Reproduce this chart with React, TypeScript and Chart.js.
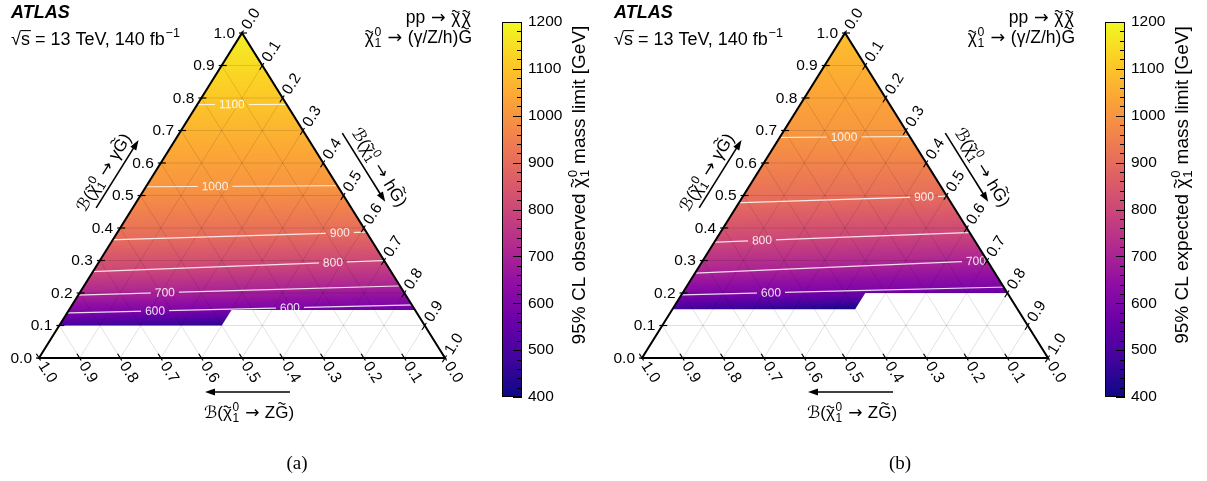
import React, { useEffect, useRef } from 'react';
import { Chart, registerables } from 'chart.js';

Chart.register(...registerables);

const FONT = "'Liberation Sans', 'DejaVu Sans', Arial, sans-serif";
const ARROW_FONT = "'DejaVu Sans', 'Liberation Sans', sans-serif";
Chart.defaults.font.family = FONT;

// ---------- axis ticks ----------
const ternaryTicks = [0, 0.1, 0.2, 0.3, 0.4, 0.5, 0.6, 0.7, 0.8, 0.9, 1.0];
const ternaryTickLabels = ['0.0', '0.1', '0.2', '0.3', '0.4', '0.5', '0.6', '0.7', '0.8', '0.9', '1.0'];
const gridFractions = [0.1, 0.2, 0.3, 0.4, 0.5, 0.6, 0.7, 0.8, 0.9];

const colorbarTicks = [400, 500, 600, 700, 800, 900, 1000, 1100, 1200];
const colorbarMinorStep = 20;

// ---------- mass-limit contours ----------
// gamma fraction B(->γG) at which each mass level is reached, at cartesian x = 0, 0.5, 1
const contourXs = [0, 0.5, 1];

// (a) observed
const obsLevels = [500, 600, 700, 800, 900, 1000, 1100, 1180];
const obsGammaAtX0 = [0.101, 0.1366, 0.1904, 0.2594, 0.3572, 0.525, 0.779, 1.0];
const obsGammaAtXMid = [0.12, 0.1509, 0.2081, 0.2832, 0.376, 0.5285, 0.78, 1.0];
const obsGammaAtX1 = [0.106, 0.1653, 0.2257, 0.307, 0.3949, 0.532, 0.781, 1.0];
const obsDrawnLevels = [600, 700, 800, 900, 1000, 1100];
const obsLabelLevels = [1100, 1000, 900, 800, 700, 600, 600];
const obsLabelX = [0.475, 0.4335, 0.741, 0.724, 0.31, 0.286, 0.618];
const obsRegion = [0.1, 0.4, 0.148]; // min γ (left part), B(hG) of step, min γ (right part)

// (b) expected
const expLevels = [500, 600, 700, 800, 900, 1000, 1090];
const expGammaAtX0 = [0.152, 0.1911, 0.2542, 0.3479, 0.4681, 0.676, 1.0];
const expGammaAtXMid = [0.177, 0.2063, 0.2811, 0.3718, 0.4883, 0.68, 1.0];
const expGammaAtX1 = [0.19, 0.2215, 0.308, 0.3952, 0.5085, 0.684, 1.0];
const expDrawnLevels = [600, 700, 800, 900, 1000];
const expLabelLevels = [1000, 900, 800, 700, 600];
const expLabelX = [0.4975, 0.6946, 0.2956, 0.8227, 0.3177];
const expRegion = [0.15, 0.45, 0.2];

const plasmaStops = ['#0d0887', '#41049d', '#6a00a8', '#8f0da4', '#b12a90', '#cc4778', '#e16462', '#f2844b', '#fca636', '#fcce25', '#f0f921'];

interface PanelCfg {
  levels: number[];
  g: number[][];
  drawn: number[];
  labelLevels: number[];
  labelX: number[];
  region: number[];
  kind: string;
  letter: string;
}

const panels: PanelCfg[] = [
  { levels: obsLevels, g: [obsGammaAtX0, obsGammaAtXMid, obsGammaAtX1], drawn: obsDrawnLevels, labelLevels: obsLabelLevels, labelX: obsLabelX, region: obsRegion, kind: 'observed', letter: '(a)' },
  { levels: expLevels, g: [expGammaAtX0, expGammaAtXMid, expGammaAtX1], drawn: expDrawnLevels, labelLevels: expLabelLevels, labelX: expLabelX, region: expRegion, kind: 'expected', letter: '(b)' },
];

const PANEL_W = 603;
const PANEL_H = 481;

function hexToRgb(h: string) {
  return [parseInt(h.slice(1, 3), 16), parseInt(h.slice(3, 5), 16), parseInt(h.slice(5, 7), 16)];
}
const PLASMA_RGB = plasmaStops.map(hexToRgb);
function plasma(t: number) {
  t = Math.min(1, Math.max(0, t));
  const f = t * (PLASMA_RGB.length - 1);
  const i = Math.min(PLASMA_RGB.length - 2, Math.floor(f));
  const r = f - i;
  const a = PLASMA_RGB[i], b = PLASMA_RGB[i + 1];
  return [a[0] + (b[0] - a[0]) * r, a[1] + (b[1] - a[1]) * r, a[2] + (b[2] - a[2]) * r];
}

function levelGamma(cfg: PanelCfg, i: number, x: number) {
  const n = contourXs.length;
  let k = 0;
  while (k < n - 2 && x > contourXs[k + 1]) k++;
  const t = (x - contourXs[k]) / (contourXs[k + 1] - contourXs[k]);
  return cfg.g[k][i] + (cfg.g[k + 1][i] - cfg.g[k][i]) * t;
}

function massValue(levels: number[], gs: number[], g: number) {
  const n = levels.length;
  if (g <= gs[0]) {
    const s = (levels[1] - levels[0]) / (gs[1] - gs[0]);
    return Math.max(colorbarTicks[0], levels[0] - (gs[0] - g) * s);
  }
  for (let i = 0; i < n - 1; i++) {
    if (g <= gs[i + 1]) return levels[i] + ((g - gs[i]) / (gs[i + 1] - gs[i])) * (levels[i + 1] - levels[i]);
  }
  return levels[n - 1];
}

type Pt = { x: number; y: number };
const unit = (a: Pt, b: Pt) => {
  const dx = b.x - a.x, dy = b.y - a.y, l = Math.hypot(dx, dy);
  return { x: dx / l, y: dy / l };
};

type Seg = { t: string; font?: string; tilde?: 'lo' | 'up'; sup?: string; sub?: string; over?: boolean; arrow?: boolean; gap?: number };

function segFont(s: Seg, size: number) {
  if (s.font) return s.font;
  if (s.arrow) return `${size}px ${ARROW_FONT}`;
  return `${size}px ${FONT}`;
}

function segsWidth(ctx: CanvasRenderingContext2D, segs: Seg[], size: number) {
  let w = 0;
  for (const s of segs) {
    ctx.font = segFont(s, size);
    w += ctx.measureText(s.t).width + (s.gap ?? 0);
    if (s.sup || s.sub) {
      ctx.font = `${size * 0.7}px ${FONT}`;
      w += Math.max(s.sup ? ctx.measureText(s.sup).width : 0, s.sub ? ctx.measureText(s.sub).width : 0) + size * 0.08;
    }
  }
  return w;
}

function drawTilde(ctx: CanvasRenderingContext2D, cx: number, cy: number, size: number) {
  const w = size * 0.42, h = size * 0.1;
  ctx.beginPath();
  for (let i = 0; i <= 16; i++) {
    const t = i / 16;
    const x = cx - w / 2 + w * t;
    const y = cy - (h / 2) * Math.sin(2 * Math.PI * t);
    if (i === 0) ctx.moveTo(x, y);
    else ctx.lineTo(x, y);
  }
  ctx.lineWidth = size * 0.065;
  ctx.stroke();
}

function drawRich(ctx: CanvasRenderingContext2D, segs: Seg[], size: number, x: number, y: number, angle: number, align: 'left' | 'center' | 'right', vcenter: boolean) {
  ctx.save();
  ctx.translate(x, y);
  ctx.rotate(angle);
  ctx.fillStyle = '#000';
  ctx.strokeStyle = '#000';
  ctx.textAlign = 'left';
  ctx.textBaseline = 'alphabetic';
  const w = segsWidth(ctx, segs, size);
  let cx = align === 'left' ? 0 : align === 'center' ? -w / 2 : -w;
  const by = vcenter ? size * 0.36 : 0;
  for (const s of segs) {
    ctx.font = segFont(s, size);
    const tw = ctx.measureText(s.t).width;
    ctx.fillText(s.t, cx, by);
    if (s.tilde) drawTilde(ctx, cx + tw / 2, by - size * (s.tilde === 'up' ? 0.86 : 0.66), size);
    if (s.over) {
      ctx.lineWidth = size * 0.06;
      ctx.beginPath();
      ctx.moveTo(cx - 0.5, by - size * 0.8);
      ctx.lineTo(cx + tw + 1, by - size * 0.8);
      ctx.stroke();
    }
    cx += tw + (s.gap ?? 0);
    if (s.sup || s.sub) {
      ctx.font = `${size * 0.7}px ${FONT}`;
      let sw = 0;
      const x0 = cx + size * 0.04;
      if (s.sup) {
        ctx.fillText(s.sup, x0, by - size * 0.42);
        sw = Math.max(sw, ctx.measureText(s.sup).width);
      }
      if (s.sub) {
        ctx.fillText(s.sub, x0, by + size * 0.2);
        sw = Math.max(sw, ctx.measureText(s.sub).width);
      }
      cx += sw + size * 0.08;
    }
  }
  ctx.restore();
}

const chi: Seg = { t: 'χ', tilde: 'lo', sup: '0', sub: '1' };
const calB = (size: number): Seg => ({ t: 'ℬ', font: `${size}px 'DejaVu Sans', ${FONT}` });
const arr: Seg = { t: ' → ', arrow: true };

function makePlugin(cfg: PanelCfg) {
  let labelBoxes: { x: number; y: number; a: number; text: string; w: number }[] = [];

  return {
    id: 'ternary',
    beforeDatasetsDraw(chart: any) {
      const ctx: CanvasRenderingContext2D = chart.ctx;
      const xs = chart.scales.x, ys = chart.scales.y;
      const P = (h: number, g: number): Pt => ({ x: xs.getPixelForValue(h + g / 2), y: ys.getPixelForValue(g) });
      const [gA, hN, gB] = cfg.region;
      const regionPath = () => {
        const p = new Path2D();
        const pts = [P(0, gA), P(hN, gA), P(hN, gB), P(1 - gB, gB), P(0, 1)];
        p.moveTo(pts[0].x, pts[0].y);
        for (let i = 1; i < pts.length; i++) p.lineTo(pts[i].x, pts[i].y);
        p.closePath();
        return p;
      };

      // --- colour field ---
      const BL = P(0, 0), BR = P(1, 0), AP = P(0, 1);
      const x0 = Math.floor(BL.x) - 1, x1 = Math.ceil(BR.x) + 1, y0 = Math.floor(AP.y) - 1, y1 = Math.ceil(BL.y) + 1;
      const W = x1 - x0, H = y1 - y0;
      const off = document.createElement('canvas');
      off.width = W;
      off.height = H;
      const octx = off.getContext('2d')!;
      const img = octx.createImageData(W, H);
      const n = cfg.levels.length;
      const gs = new Array(n).fill(0);
      const vmin = colorbarTicks[0], vmax = colorbarTicks[colorbarTicks.length - 1];
      for (let i = 0; i < W; i++) {
        const xv = xs.getValueForPixel(x0 + i + 0.5);
        for (let k = 0; k < n; k++) gs[k] = levelGamma(cfg, k, xv);
        for (let j = 0; j < H; j++) {
          const gv = ys.getValueForPixel(y0 + j + 0.5);
          const v = massValue(cfg.levels, gs, gv);
          const c = plasma((v - vmin) / (vmax - vmin));
          const o = (j * W + i) * 4;
          img.data[o] = c[0];
          img.data[o + 1] = c[1];
          img.data[o + 2] = c[2];
          img.data[o + 3] = 255;
        }
      }
      octx.putImageData(img, 0, 0);
      ctx.save();
      ctx.clip(regionPath());
      ctx.drawImage(off, x0, y0);
      ctx.restore();

      // --- ternary grid ---
      ctx.save();
      ctx.strokeStyle = 'rgba(0,0,0,0.15)';
      ctx.lineWidth = 0.8;
      const seg = (a: Pt, b: Pt) => {
        ctx.beginPath();
        ctx.moveTo(a.x, a.y);
        ctx.lineTo(b.x, b.y);
        ctx.stroke();
      };
      for (const c of gridFractions) {
        seg(P(0, c), P(1 - c, c));
        seg(P(c, 0), P(c, 1 - c));
        seg(P(1 - c, 0), P(0, 1 - c));
      }
      ctx.restore();

      // --- contour label boxes ---
      ctx.font = `12px ${FONT}`;
      labelBoxes = cfg.labelLevels.map((lv, k) => {
        const idx = cfg.levels.indexOf(lv);
        const lx = cfg.labelX[k];
        const g = levelGamma(cfg, idx, lx);
        const pa = { x: xs.getPixelForValue(lx - 0.02), y: ys.getPixelForValue(levelGamma(cfg, idx, lx - 0.02)) };
        const pb = { x: xs.getPixelForValue(lx + 0.02), y: ys.getPixelForValue(levelGamma(cfg, idx, lx + 0.02)) };
        return { x: xs.getPixelForValue(lx), y: ys.getPixelForValue(g), a: Math.atan2(pb.y - pa.y, pb.x - pa.x), text: String(lv), w: ctx.measureText(String(lv)).width };
      });
      const clip = regionPath();
      for (const b of labelBoxes) {
        const hw = b.w / 2 + 4, hh = 7;
        const ca = Math.cos(b.a), sa = Math.sin(b.a);
        const corners = [[-hw, -hh], [hw, -hh], [hw, hh], [-hw, hh]].map(([u, v]) => ({ x: b.x + u * ca - v * sa, y: b.y + u * sa + v * ca }));
        clip.moveTo(corners[0].x, corners[0].y);
        for (let i = 1; i < 4; i++) clip.lineTo(corners[i].x, corners[i].y);
        clip.closePath();
      }
      ctx.save();
      ctx.clip(clip, 'evenodd');
    },

    afterDatasetsDraw(chart: any) {
      const ctx: CanvasRenderingContext2D = chart.ctx;
      ctx.restore();
      const xs = chart.scales.x, ys = chart.scales.y, cb = chart.scales.cb;
      const P = (h: number, g: number): Pt => ({ x: xs.getPixelForValue(h + g / 2), y: ys.getPixelForValue(g) });
      const BL = P(0, 0), BR = P(1, 0), AP = P(0, 1);

      // contour labels
      ctx.save();
      ctx.fillStyle = 'rgba(255,255,255,0.88)';
      ctx.font = `12px ${FONT}`;
      ctx.textAlign = 'center';
      ctx.textBaseline = 'middle';
      for (const b of labelBoxes) {
        ctx.save();
        ctx.translate(b.x, b.y);
        ctx.rotate(b.a);
        ctx.fillText(b.text, 0, 0.5);
        ctx.restore();
      }
      ctx.restore();

      // triangle edges
      ctx.save();
      ctx.strokeStyle = '#000';
      ctx.lineWidth = 2;
      ctx.lineJoin = 'miter';
      ctx.beginPath();
      ctx.moveTo(BL.x, BL.y);
      ctx.lineTo(BR.x, BR.y);
      ctx.lineTo(AP.x, AP.y);
      ctx.closePath();
      ctx.stroke();
      ctx.restore();

      // ticks and tick labels
      const dirL = unit(BR, BL);
      const dirR = unit(BL, AP);
      const dirB = unit(AP, BR);
      ctx.save();
      ctx.strokeStyle = '#000';
      ctx.fillStyle = '#000';
      ctx.lineWidth = 1.2;
      ctx.font = `15.5px ${FONT}`;
      ctx.textBaseline = 'middle';
      const tick = (p: Pt, d: Pt) => {
        ctx.beginPath();
        ctx.moveTo(p.x + d.x * 3, p.y + d.y * 3);
        ctx.lineTo(p.x - d.x * 5, p.y - d.y * 5);
        ctx.stroke();
      };
      ternaryTicks.forEach((c, i) => {
        const lab = ternaryTickLabels[i];
        // left axis: B(γG)
        const pl = P(0, c);
        tick(pl, dirL);
        ctx.textAlign = 'right';
        ctx.fillText(lab, pl.x + dirL.x * 7, pl.y + dirL.y * 7 + 0.5);
        ctx.textAlign = 'left';
        // right axis: B(hG)
        const pr = P(c, 1 - c);
        tick(pr, dirR);
        ctx.save();
        ctx.translate(pr.x + dirR.x * 6, pr.y + dirR.y * 6);
        ctx.rotate(Math.atan2(dirR.y, dirR.x));
        ctx.fillText(lab, 0, 0.5);
        ctx.restore();
        // bottom axis: B(ZG)
        const pb = P(1 - c, 0);
        tick(pb, dirB);
        ctx.save();
        ctx.translate(pb.x + dirB.x * 6, pb.y + dirB.y * 6);
        ctx.rotate(Math.atan2(dirB.y, dirB.x));
        ctx.fillText(lab, 0, 0.5);
        ctx.restore();
      });
      ctx.restore();

      // axis titles with arrows
      const arrow = (c: Pt, u: Pt, len: number) => {
        const a = { x: c.x - (u.x * len) / 2, y: c.y - (u.y * len) / 2 };
        const b = { x: c.x + (u.x * len) / 2, y: c.y + (u.y * len) / 2 };
        const nx = -u.y, ny = u.x;
        ctx.save();
        ctx.strokeStyle = '#000';
        ctx.fillStyle = '#000';
        ctx.lineWidth = 1.6;
        ctx.beginPath();
        ctx.moveTo(a.x, a.y);
        ctx.lineTo(b.x - u.x * 6, b.y - u.y * 6);
        ctx.stroke();
        ctx.beginPath();
        ctx.moveTo(b.x, b.y);
        ctx.lineTo(b.x - u.x * 10 + nx * 3.5, b.y - u.y * 10 + ny * 3.5);
        ctx.lineTo(b.x - u.x * 10 - nx * 3.5, b.y - u.y * 10 - ny * 3.5);
        ctx.closePath();
        ctx.fill();
        ctx.restore();
      };
      const ts = 17;
      {
        const u = unit(BL, AP), nrm = { x: u.y, y: -u.x }, mid = P(0, 0.5);
        const tc = { x: mid.x + nrm.x * 44, y: mid.y + nrm.y * 44 };
        drawRich(ctx, [calB(ts), { t: '(' }, chi, arr, { t: 'γ' }, { t: 'G', tilde: 'up' }, { t: ')' }], ts, tc.x, tc.y, Math.atan2(u.y, u.x), 'center', true);
        arrow({ x: mid.x + nrm.x * 31 + u.x * 6, y: mid.y + nrm.y * 31 + u.y * 6 }, u, 80);
      }
      {
        const u = unit(AP, BR), nrm = { x: u.y, y: -u.x }, mid = P(0.5, 0.5);
        const tc = { x: mid.x + nrm.x * 46 - u.x * 5, y: mid.y + nrm.y * 46 - u.y * 5 };
        drawRich(ctx, [calB(ts), { t: '(' }, chi, arr, { t: 'h' }, { t: 'G', tilde: 'up' }, { t: ')' }], ts, tc.x, tc.y, Math.atan2(u.y, u.x), 'center', true);
        arrow({ x: mid.x + nrm.x * 32 - u.x * 13, y: mid.y + nrm.y * 32 - u.y * 13 }, u, 81);
      }
      {
        const u = unit(BR, BL), nrm = { x: u.y, y: -u.x }, mid = P(0.5, 0);
        const tc = { x: mid.x + nrm.x * 54 - u.x * 7, y: mid.y + nrm.y * 54 - u.y * 7 };
        drawRich(ctx, [calB(ts), { t: '(' }, chi, arr, { t: 'Z' }, { t: 'G', tilde: 'up' }, { t: ')' }], ts, tc.x, tc.y, 0, 'center', true);
        arrow({ x: mid.x + nrm.x * 34 - u.x * 5.5, y: mid.y + nrm.y * 34 - u.y * 5.5 }, u, 85);
      }

      // colour bar
      const vmin = colorbarTicks[0], vmax = colorbarTicks[colorbarTicks.length - 1];
      const top = cb.getPixelForValue(vmax), bot = cb.getPixelForValue(vmin);
      const right = chart.chartArea.right, barW = 20, left = right - barW;
      const grad = ctx.createLinearGradient(0, bot, 0, top);
      plasmaStops.forEach((c, i) => grad.addColorStop(i / (plasmaStops.length - 1), c));
      ctx.save();
      ctx.fillStyle = grad;
      ctx.fillRect(left, top, barW, bot - top);
      ctx.strokeStyle = '#000';
      ctx.lineWidth = 1;
      for (let v = vmin; v <= vmax; v += colorbarMinorStep) {
        const y = Math.round(cb.getPixelForValue(v)) + 0.5;
        const major = colorbarTicks.includes(v);
        ctx.beginPath();
        ctx.moveTo(right - (major ? 9 : 5), y);
        ctx.lineTo(right, y);
        ctx.stroke();
      }
      ctx.strokeRect(Math.round(left) + 0.5, Math.round(top) + 0.5, barW - 1, Math.round(bot - top) - 1);
      ctx.restore();
      drawRich(ctx, [{ t: `95% CL ${cfg.kind} ` }, chi, { t: ' mass limit [GeV]' }], 19, 578, 185, -Math.PI / 2, 'center', true);

      // annotations
      ctx.save();
      ctx.fillStyle = '#000';
      ctx.textAlign = 'left';
      ctx.textBaseline = 'alphabetic';
      ctx.font = `italic bold 18px ${FONT}`;
      ctx.fillText('ATLAS', 11, 18);
      ctx.restore();
      drawRich(ctx, [{ t: '√' }, { t: 's', over: true }, { t: ' = 13 TeV, 140 fb', sup: '−1' }], 18, 11, 45, 0, 'left', false);
      drawRich(ctx, [{ t: 'pp' }, arr, { t: 'χ', tilde: 'lo', gap: 1.5 }, { t: 'χ', tilde: 'lo' }], 17.5, 471, 23, 0, 'right', false);
      drawRich(ctx, [chi, arr, { t: '(γ/Z/h)' }, { t: 'G', tilde: 'up' }], 17.5, 472, 43, 0, 'right', false);
      ctx.save();
      ctx.fillStyle = '#000';
      ctx.font = `19px 'Liberation Serif', 'DejaVu Serif', serif`;
      ctx.textAlign = 'center';
      ctx.textBaseline = 'alphabetic';
      ctx.fillText(cfg.letter, 297, 469);
      ctx.restore();
    },
  };
}

function TernaryPanel({ cfg, left }: { cfg: PanelCfg; left: number }) {
  const ref = useRef<HTMLCanvasElement>(null);
  useEffect(() => {
    const datasets = cfg.drawn.map((lv) => {
      const i = cfg.levels.indexOf(lv);
      return {
        label: String(lv),
        data: contourXs.map((x, k) => ({ x, y: cfg.g[k][i] })),
        showLine: true,
        pointRadius: 0,
        borderColor: 'rgba(255,255,255,0.85)',
        borderWidth: 1.2,
        tension: 0,
      };
    });
    const chart = new Chart(ref.current!, {
      type: 'scatter',
      data: { datasets },
      options: {
        animation: false,
        responsive: false,
        maintainAspectRatio: false,
        events: [],
        layout: { padding: { left: 39, top: 22, right: 6, bottom: 84 } },
        scales: {
          x: { type: 'linear', display: false, min: 0, max: 483 / 406 },
          y: { type: 'linear', display: false, min: -39 / 325, max: 1 + 11 / 325 },
          cb: {
            type: 'linear',
            position: 'right',
            min: colorbarTicks[0],
            max: colorbarTicks[colorbarTicks.length - 1],
            grid: { display: false, drawTicks: false },
            border: { display: false },
            afterBuildTicks: (scale: any) => {
              scale.ticks = colorbarTicks.map((v) => ({ value: v }));
            },
            ticks: { color: '#000', padding: 6, font: { size: 15.5, family: FONT }, callback: (v: any) => String(v) },
            afterFit: (scale: any) => {
              scale.width = 75;
            },
          },
        },
        plugins: { legend: { display: false }, tooltip: { enabled: false } },
      } as any,
      plugins: [makePlugin(cfg)],
    });
    return () => chart.destroy();
  }, [cfg]);
  return <canvas ref={ref} width={PANEL_W} height={PANEL_H} style={{ position: 'absolute', left, top: 0, width: PANEL_W, height: PANEL_H }} />;
}

export default function App() {
  return (
    <div style={{ position: 'fixed', left: 0, top: 0, width: 1207, height: 481, background: '#fff', overflow: 'hidden' }}>
      <TernaryPanel cfg={panels[0]} left={0} />
      <TernaryPanel cfg={panels[1]} left={603} />
    </div>
  );
}
